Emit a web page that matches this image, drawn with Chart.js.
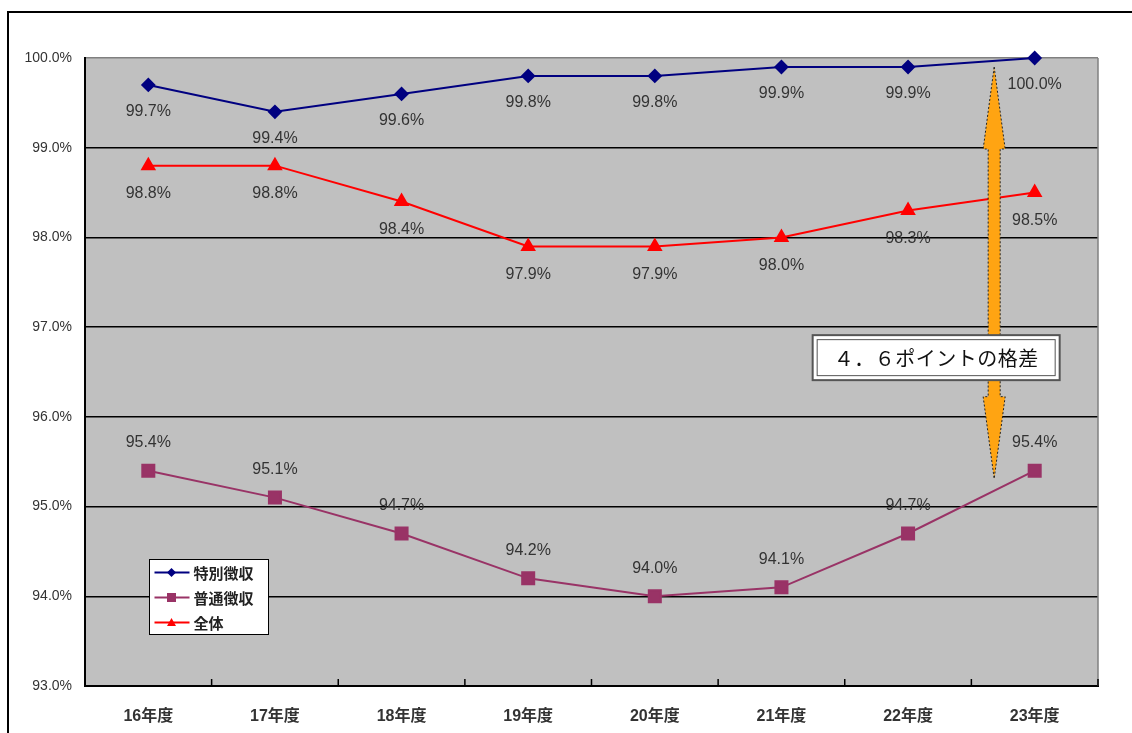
<!DOCTYPE html>
<html lang="ja">
<head>
<meta charset="utf-8">
<title>徴収率の推移</title>
<script src="https://cdn.jsdelivr.net/npm/chart.js"></script>
<style>
  html, body { margin: 0; padding: 0; background: #fff; }
  #wrap { position: relative; width: 1132px; height: 733px; }
</style>
</head>
<body>
<div id="wrap"><canvas id="rateChart" width="1132" height="733"></canvas></div>
<script>
const years = ['16年度', '17年度', '18年度', '19年度', '20年度', '21年度', '22年度', '23年度'];
const tokubetsu = [99.7, 99.4, 99.6, 99.8, 99.8, 99.9, 99.9, 100.0];
const futsuu = [95.4, 95.1, 94.7, 94.2, 94.0, 94.1, 94.7, 95.4];
const zentai = [98.8, 98.8, 98.4, 97.9, 97.9, 98.0, 98.3, 98.5];
const yMin = 93;
const yMax = 100;
const gapText = '４．６ポイントの格差';

const FONT = "'Liberation Sans', 'Noto Sans CJK JP', sans-serif";

// label offset (px) from each point, per dataset
const labelOffset = [27, -28, 28];

function marker(ctx, style, x, y, r) {
  ctx.beginPath();
  if (style === 'rectRot') {
    ctx.moveTo(x, y - r); ctx.lineTo(x + r, y); ctx.lineTo(x, y + r); ctx.lineTo(x - r, y);
  } else if (style === 'rect') {
    ctx.rect(x - r, y - r, 2 * r, 2 * r);
  } else {
    ctx.moveTo(x, y - r); ctx.lineTo(x + r, y + r * 0.75); ctx.lineTo(x - r, y + r * 0.75);
  }
  ctx.closePath();
  ctx.fill();
}

const decor = {
  id: 'decor',
  beforeDraw(chart) {
    const { ctx, chartArea: a } = chart;
    ctx.save();
    ctx.fillStyle = '#fff';
    ctx.fillRect(0, 0, chart.width, chart.height);
    // outer frame
    ctx.strokeStyle = '#000';
    ctx.lineWidth = 2;
    ctx.beginPath();
    ctx.moveTo(8, chart.height + 2);
    ctx.lineTo(8, 12);
    ctx.lineTo(chart.width + 2, 12);
    ctx.stroke();
    // plot background
    ctx.fillStyle = '#c0c0c0';
    ctx.fillRect(a.left, a.top, a.right - a.left, a.bottom - a.top);
    ctx.restore();
  },
  afterDatasetsDraw(chart) {
    const { ctx, chartArea: a } = chart;
    const xs = chart.scales.x, ys = chart.scales.y;
    const step = xs.getPixelForValue(1) - xs.getPixelForValue(0);
    ctx.save();

    // right edge of plot area
    ctx.strokeStyle = '#808080';
    ctx.lineWidth = 1.5;
    ctx.beginPath();
    ctx.moveTo(a.right, a.top);
    ctx.lineTo(a.right, a.bottom);
    ctx.stroke();

    // category tick marks pointing up from the axis
    ctx.strokeStyle = '#000';
    ctx.lineWidth = 1.5;
    for (let i = 1; i <= years.length; i++) {
      const bx = xs.getPixelForValue(i - 1) + step / 2;
      ctx.beginPath();
      ctx.moveTo(bx, a.bottom);
      ctx.lineTo(bx, a.bottom - 7);
      ctx.stroke();
    }

    // double-headed arrow showing the gap in the last year
    const last = years.length - 1;
    const ax = xs.getPixelForValue(last) - step * 0.32;
    const yTop = ys.getPixelForValue(tokubetsu[last]) + 9;
    const yBot = ys.getPixelForValue(futsuu[last]) + 8;
    const hw = 11, sw = 6, hl = 82;
    ctx.beginPath();
    ctx.moveTo(ax, yTop);
    ctx.lineTo(ax + hw, yTop + hl);
    ctx.lineTo(ax + sw, yTop + hl);
    ctx.lineTo(ax + sw, yBot - hl);
    ctx.lineTo(ax + hw, yBot - hl);
    ctx.lineTo(ax, yBot);
    ctx.lineTo(ax - hw, yBot - hl);
    ctx.lineTo(ax - sw, yBot - hl);
    ctx.lineTo(ax - sw, yTop + hl);
    ctx.lineTo(ax - hw, yTop + hl);
    ctx.closePath();
    ctx.fillStyle = '#ffa412';
    ctx.fill();
    ctx.setLineDash([2, 2]);
    ctx.strokeStyle = '#222';
    ctx.lineWidth = 1;
    ctx.stroke();
    ctx.setLineDash([]);

    // gap caption box
    const bw = 247, bh = 45;
    const bx = ax - 58 - bw / 2;
    const by = ys.getPixelForValue(96.66) - bh / 2;
    ctx.fillStyle = '#fff';
    ctx.fillRect(bx, by, bw, bh);
    ctx.strokeStyle = '#555';
    ctx.lineWidth = 2;
    ctx.strokeRect(bx, by, bw, bh);
    ctx.lineWidth = 1;
    ctx.strokeRect(bx + 4.5, by + 4.5, bw - 9, bh - 9);
    ctx.fillStyle = '#111';
    ctx.font = "20px 'Noto Sans CJK JP', sans-serif";
    ctx.textAlign = 'center';
    ctx.textBaseline = 'middle';
    ctx.letterSpacing = '0.5px';
    ctx.fillText(gapText, bx + bw / 2, by + bh / 2 + 1);
    ctx.letterSpacing = '0px';

    // value labels
    ctx.font = '16px ' + FONT;
    ctx.fillStyle = '#333';
    chart.data.datasets.forEach((ds, di) => {
      const meta = chart.getDatasetMeta(di);
      meta.data.forEach((pt, i) => {
        ctx.fillText(ds.data[i].toFixed(1) + '%', pt.x, pt.y + labelOffset[di]);
      });
    });

    // legend box
    const lx = a.left + 64.5, ly = a.bottom - 126.5;
    ctx.fillStyle = '#fff';
    ctx.fillRect(lx, ly, 119, 75);
    ctx.strokeStyle = '#000';
    ctx.lineWidth = 1;
    ctx.strokeRect(lx, ly, 119, 75);
    ctx.textAlign = 'left';
    ctx.font = "bold 15px 'Noto Sans CJK JP', sans-serif";
    chart.data.datasets.forEach((ds, di) => {
      const ry = ly + 13 + di * 25;
      ctx.strokeStyle = ds.borderColor;
      ctx.lineWidth = 2;
      ctx.beginPath();
      ctx.moveTo(lx + 5, ry);
      ctx.lineTo(lx + 40, ry);
      ctx.stroke();
      ctx.fillStyle = ds.backgroundColor;
      marker(ctx, ds.pointStyle, lx + 22, ry, 4.5);
      ctx.fillStyle = '#222';
      ctx.fillText(ds.label, lx + 44, ry + 1);
    });
    ctx.restore();
  }
};

new Chart(document.getElementById('rateChart'), {
  type: 'line',
  data: {
    labels: years,
    datasets: [{
      label: '特別徴収',
      data: tokubetsu,
      borderColor: '#000080',
      backgroundColor: '#000080',
      pointStyle: 'rectRot',
      pointRadius: 6,
      borderWidth: 2,
      tension: 0,
      clip: false
    }, {
      label: '普通徴収',
      data: futsuu,
      borderColor: '#993366',
      backgroundColor: '#993366',
      pointStyle: 'rect',
      pointRadius: 8.5,
      borderWidth: 2,
      tension: 0,
      clip: false
    }, {
      label: '全体',
      data: zentai,
      borderColor: '#ff0000',
      backgroundColor: '#ff0000',
      pointStyle: 'triangle',
      pointRadius: 7,
      borderWidth: 2,
      tension: 0,
      clip: false
    }]
  },
  options: {
    responsive: false,
    animation: false,
    layout: { padding: { top: 58, right: 34, left: 0, bottom: 0 } },
    plugins: {
      legend: { display: false },
      tooltip: { enabled: false }
    },
    scales: {
      x: {
        offset: true,
        afterFit: s => { s.height = 47; },
        grid: { display: false },
        border: { color: '#000', width: 2 },
        ticks: {
          padding: 13,
          color: '#333',
          font: { family: FONT, size: 16, weight: 'bold' }
        }
      },
      y: {
        min: yMin,
        max: yMax,
        afterFit: s => { s.width = 85; },
        border: { color: '#000', width: 2 },
        grid: {
          drawTicks: false,
          color: c => c.tick.value === yMax ? '#808080' : '#000',
          lineWidth: 1.5
        },
        ticks: {
          stepSize: 1,
          padding: 13,
          color: '#333',
          font: { family: FONT, size: 14 },
          callback: v => v.toFixed(1) + '%'
        }
      }
    }
  },
  plugins: [decor]
});
</script>
</body>
</html>
